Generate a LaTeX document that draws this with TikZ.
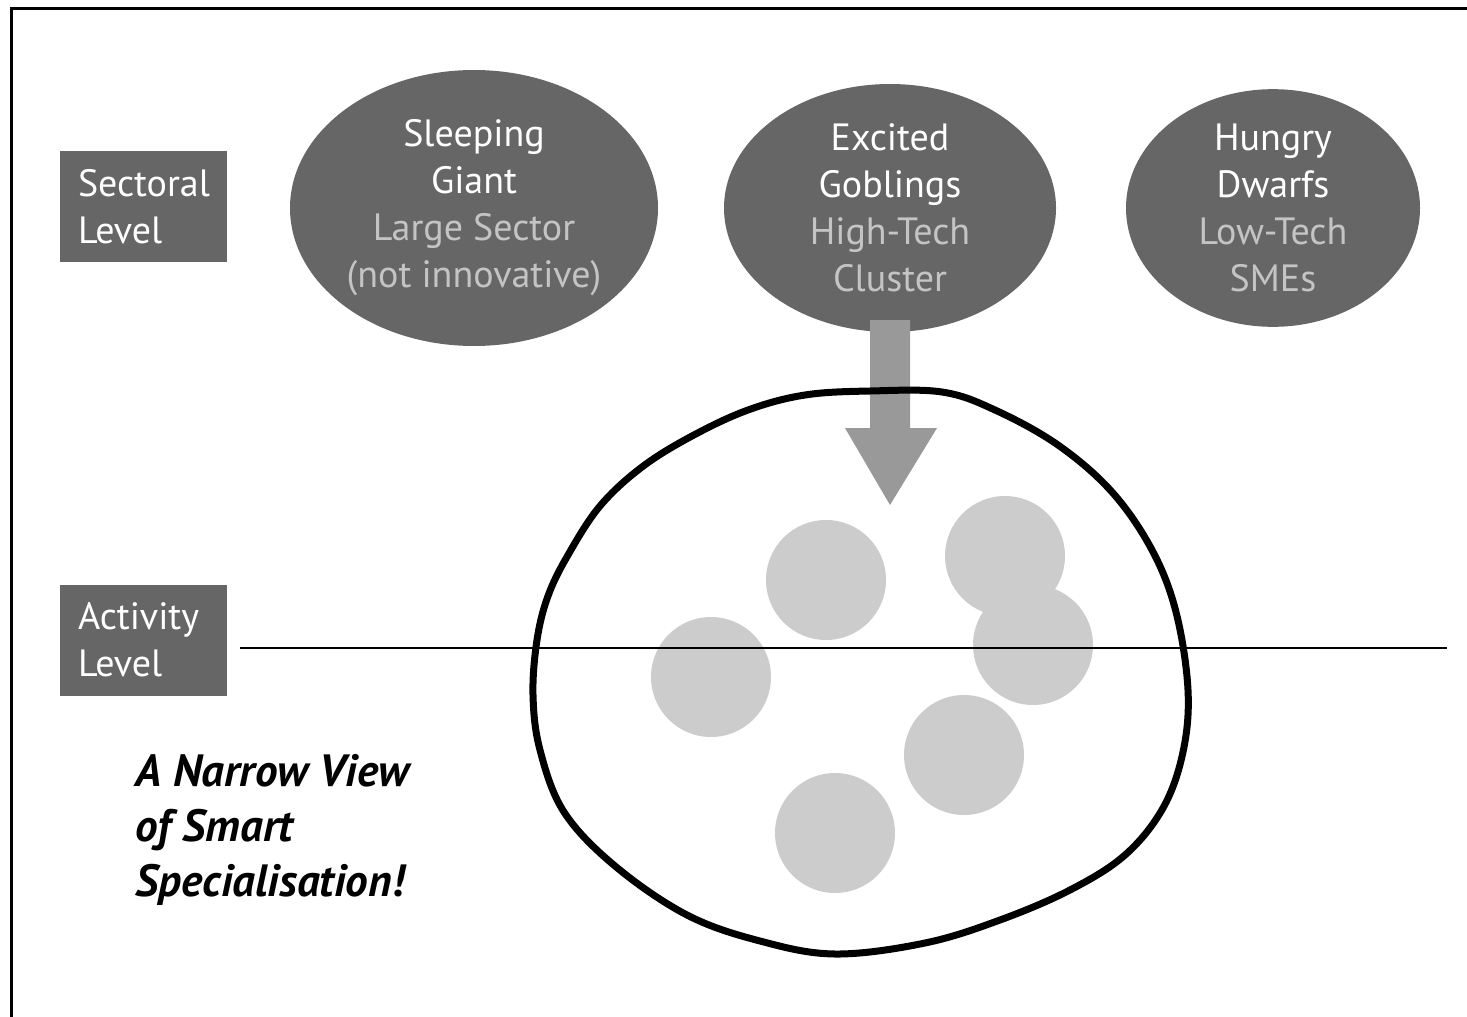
\documentclass[tikz,border=0pt]{standalone}
\usepackage{fontspec}
\setmainfont{PT Sans}
\usetikzlibrary{shapes.geometric}
\definecolor{boxgray}{HTML}{666666}
\definecolor{subtxt}{HTML}{C4C4C4}
\definecolor{arrowgray}{HTML}{999999}
\definecolor{dotgray}{HTML}{CCCCCC}
\tikzset{
  levelbox/.style={fill=boxgray, text=white, minimum width=83.5pt, minimum height=55.5pt,
    inner xsep=9pt, inner ysep=0pt, align=left, text width=65.5pt,
    font=\fontsize{19pt}{23.5pt}\selectfont},
  sector/.style={ellipse, fill=boxgray, text=white, inner sep=0pt, align=center,
    font=\fontsize{19pt}{23.5pt}\selectfont},
  dot/.style={circle, fill=dotgray, minimum size=60pt, inner sep=0pt},
  claim/.style={align=left, anchor=west, inner sep=0pt,
    font=\fontsize{22.6pt}{27.5pt}\selectfont\bfseries\itshape}
}
\begin{document}
\begin{tikzpicture}[x=0.5pt,y=-0.5pt]
\useasboundingbox (0,0) rectangle (1467,1017);
% frame (top and left edges visible)
\coordinate (fbl) at (11,1030);
\coordinate (ftl) at (11,8);
\coordinate (ftr) at (1480,8);
\draw[line width=1.5pt] (fbl) -- (ftl) -- (ftr);
% level boxes
\node[levelbox] (sect) at (143.5,206.5) {Sectoral\\Level};
\node[levelbox] (act) at (143.5,640) {Activity\\Level};
% sector ellipses
\node[sector, minimum width=184pt, minimum height=138pt] (giant) at (474,208)
  {Sleeping\\Giant\\\textcolor{subtxt}{Large Sector}\\\textcolor{subtxt}{(not innovative)}};
\node[sector, minimum width=166pt, minimum height=124pt] (gob) at (890,208)
  {Excited\\Goblings\\\textcolor{subtxt}{High-Tech}\\\textcolor{subtxt}{Cluster}};
\node[sector, minimum width=147pt, minimum height=111pt] (dwarf) at (1273,208)
  {Hungry\\Dwarfs\\\textcolor{subtxt}{Low-Tech}\\\textcolor{subtxt}{SMEs}};
% big arrow from the goblins downwards
\coordinate (tip) at (890,505);
\fill[arrowgray] (870,320) -- (910,320) -- (910,428) -- (937,428) -- (tip)
  -- (845,428) -- (870,428) -- cycle;
% activities
\node[dot] (d1) at (826,580) {};
\node[dot] (d2) at (1005,556) {};
\node[dot] (d3) at (1033,645) {};
\node[dot] (d4) at (711,677) {};
\node[dot] (d5) at (964,755) {};
\node[dot] (d6) at (835,833) {};
% cluster boundary
\draw[line width=3.5pt] plot[smooth cycle, tension=0.6] coordinates {
  (870,391) (942,392) (995,410) (1058,445) (1112,492) (1152,550) (1176,612)
  (1188,690) (1183,752) (1163,808) (1125,855) (1070,890) (1000,920) (925,943)
  (835,954) (760,941) (687,915) (615,866) (564,812) (540,750) (533,695)
  (537,640) (548,596) (568,555) (600,506) (642,467) (692,436) (748,410) (805,395)};
% level line
\coordinate (lineL) at (240,648);
\coordinate (lineR) at (1447,648);
\draw[line width=1.4pt] (lineL) -- (lineR);
% claim text
\node[claim] (claim) at (135,830) {A Narrow View\\of Smart\\Specialisation!};
\end{tikzpicture}
\end{document}
